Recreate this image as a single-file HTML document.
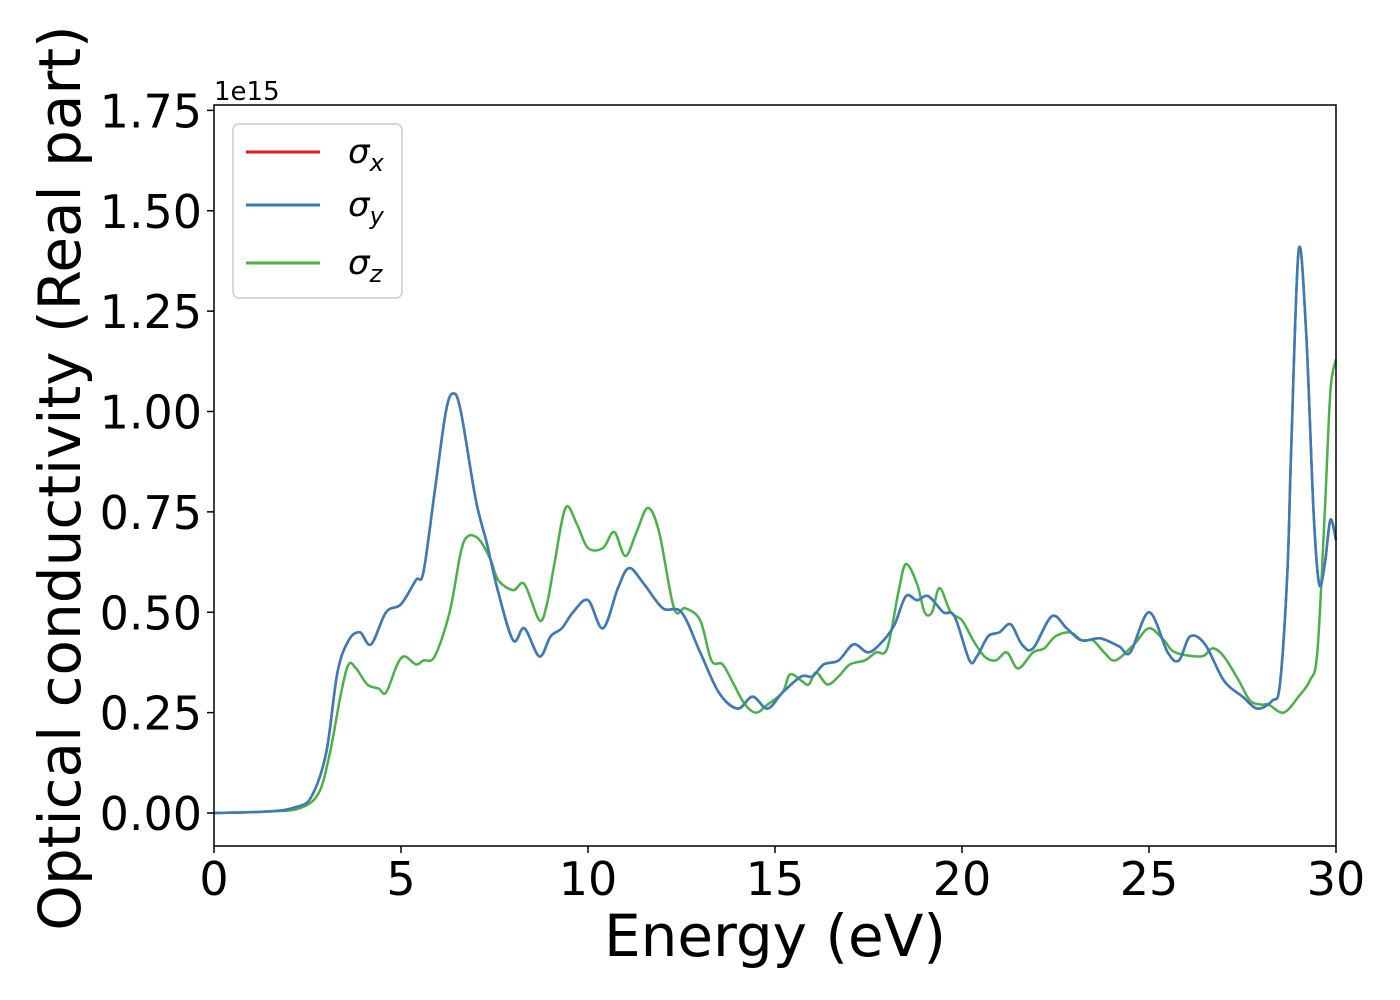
<!DOCTYPE html>
<html><head><meta charset="utf-8"><style>
html,body{margin:0;padding:0;background:#fff;}
svg{display:block;font-family:"DejaVu Sans","Liberation Sans",sans-serif;}
</style></head><body>
<svg id="chart" width="1400" height="1000" viewBox="0 0 1400 1000" xmlns="http://www.w3.org/2000/svg">
<rect width="1400" height="1000" fill="#fff"/>
<g id="series"></g>
<rect x="214" y="105" width="1122" height="741" fill="none" stroke="#000" stroke-width="1.5"/>
<g id="xticks"></g>
<g id="yticks"></g>
<text x="214" y="100" font-size="26">1e15</text>
<text x="775" y="956" font-size="58" text-anchor="middle">Energy (eV)</text>
<text transform="translate(80,478) rotate(-90)" font-size="58" text-anchor="middle">Optical conductivity (Real part)</text>
<g>
<rect x="233" y="124" width="169" height="174" rx="6" fill="#fff" stroke="#ccc" stroke-width="1.5"/>
<line x1="246" y1="152" x2="320" y2="152" stroke="#e41a1c" stroke-width="3"/>
<text x="348" y="163" font-size="34" font-style="italic">σ<tspan font-size="24" dy="8">x</tspan></text>
<line x1="246" y1="205" x2="320" y2="205" stroke="#377eb8" stroke-width="3"/>
<text x="348" y="216" font-size="34" font-style="italic">σ<tspan font-size="24" dy="8">y</tspan></text>
<line x1="246" y1="263" x2="320" y2="263" stroke="#4daf4a" stroke-width="3"/>
<text x="348" y="274" font-size="34" font-style="italic">σ<tspan font-size="24" dy="8">z</tspan></text>
</g>
</svg>
<script>
const energyXY=[0,1.5,2.2,2.6,3,3.3,3.6,3.9,4.2,4.6,5,5.4,5.6,5.9,6.2,6.4,6.6,7.0,7.3,7.6,8.0,8.3,8.7,9.0,9.3,9.6,10,10.4,10.8,11.1,11.5,12,12.5,13,13.5,14,14.4,14.8,15.2,15.7,16,16.3,16.7,17.1,17.5,17.9,18.2,18.5,18.8,19.1,19.5,19.8,20.2,20.4,20.7,21.0,21.3,21.6,21.9,22.4,22.8,23.2,23.7,24.2,24.5,25.0,25.5,25.8,26.1,26.5,27.0,27.5,27.9,28.3,28.5,28.7,28.8,29.0,29.2,29.4,29.55,29.7,29.85,30];
const sigmaX=[0,0.004,0.015,0.04,0.15,0.35,0.43,0.45,0.42,0.5,0.52,0.58,0.6,0.8,1.0,1.045,1.0,0.78,0.67,0.55,0.43,0.46,0.39,0.44,0.46,0.5,0.53,0.46,0.56,0.61,0.57,0.51,0.5,0.4,0.3,0.26,0.29,0.26,0.3,0.34,0.34,0.37,0.38,0.42,0.40,0.43,0.47,0.54,0.53,0.54,0.5,0.49,0.38,0.39,0.44,0.45,0.47,0.42,0.41,0.49,0.46,0.43,0.435,0.415,0.40,0.50,0.40,0.38,0.44,0.42,0.33,0.29,0.26,0.28,0.32,0.6,0.9,1.4,1.2,0.75,0.57,0.62,0.73,0.68];
const sigmaY=sigmaX.slice();
const energyZ=[0,1.5,2.3,2.8,3.1,3.4,3.6,3.8,4.1,4.4,4.6,4.9,5.1,5.4,5.6,5.9,6.3,6.6,6.8,7.1,7.4,7.6,8.0,8.3,8.7,8.9,9.1,9.4,9.7,10,10.4,10.7,11.0,11.3,11.6,11.9,12.3,12.6,13.0,13.3,13.6,13.9,14.2,14.5,14.8,15.2,15.4,15.7,15.9,16.1,16.4,16.7,17.0,17.4,17.7,18.0,18.3,18.5,18.8,19.0,19.2,19.4,19.7,20.0,20.3,20.6,20.9,21.2,21.5,21.9,22.2,22.5,22.9,23.2,23.5,23.8,24.1,24.6,25.0,25.4,25.7,26.4,26.7,27.0,27.4,27.7,28.0,28.2,28.6,29.0,29.3,29.5,29.7,29.85,30];
const sigmaZ=[0,0.004,0.012,0.05,0.15,0.3,0.37,0.36,0.32,0.31,0.30,0.37,0.39,0.37,0.38,0.39,0.5,0.65,0.69,0.68,0.63,0.58,0.555,0.57,0.48,0.52,0.62,0.76,0.72,0.66,0.66,0.70,0.64,0.70,0.76,0.70,0.51,0.51,0.48,0.38,0.37,0.32,0.27,0.25,0.27,0.3,0.345,0.33,0.32,0.35,0.32,0.34,0.37,0.38,0.40,0.41,0.55,0.62,0.57,0.50,0.50,0.56,0.50,0.48,0.43,0.39,0.38,0.40,0.36,0.40,0.41,0.44,0.45,0.43,0.43,0.40,0.38,0.42,0.46,0.43,0.40,0.39,0.41,0.39,0.33,0.28,0.27,0.27,0.25,0.29,0.33,0.40,0.75,1.05,1.13];
const xTicks=[0,5,10,15,20,25,30];
const yTicks=[0,0.25,0.5,0.75,1.0,1.25,1.5,1.75];
const yTickLabels=["0.00","0.25","0.50","0.75","1.00","1.25","1.50","1.75"];

const NS="http://www.w3.org/2000/svg";
const xs=e=>214+(e/30)*1122;
const ys=v=>813-v*401.5;
function pathFor(ex,vals){
  const p=ex.map((e,i)=>[xs(e),ys(vals[i])]);
  let d="M"+p[0][0]+","+p[0][1];
  for(let i=0;i<p.length-1;i++){
    const p0=p[i-1]||p[i],p1=p[i],p2=p[i+1],p3=p[i+2]||p2;
    const c1=[p1[0]+(p2[0]-p0[0])/6,p1[1]+(p2[1]-p0[1])/6];
    const c2=[p2[0]-(p3[0]-p1[0])/6,p2[1]-(p3[1]-p1[1])/6];
    d+=" C"+c1[0]+","+c1[1]+" "+c2[0]+","+c2[1]+" "+p2[0]+","+p2[1];
  }
  return d;
}
const sg=document.getElementById("series");
[[energyXY,sigmaX,"#e41a1c","series-sigma-x"],[energyZ,sigmaZ,"#4daf4a","series-sigma-z"],[energyXY,sigmaY,"#377eb8","series-sigma-y"]].forEach(s=>{
  const el=document.createElementNS(NS,"path");
  el.setAttribute("d",pathFor(s[0],s[1]));
  el.setAttribute("fill","none");
  el.setAttribute("stroke",s[2]);
  el.setAttribute("stroke-width","2.5");
  
  
  sg.appendChild(el);
});
const xg=document.getElementById("xticks");
xTicks.forEach(t=>{
  const l=document.createElementNS(NS,"line");
  l.setAttribute("x1",xs(t));l.setAttribute("x2",xs(t));l.setAttribute("y1",846);l.setAttribute("y2",853);l.setAttribute("stroke","#000");l.setAttribute("stroke-width","1.5");
  
  
  xg.appendChild(l);
  const tx=document.createElementNS(NS,"text");
  tx.setAttribute("x",xs(t));tx.setAttribute("y",895);tx.setAttribute("font-size","46");tx.setAttribute("text-anchor","middle");
  tx.textContent=String(t);
  
  
  xg.appendChild(tx);
});
const yg=document.getElementById("yticks");
yTicks.forEach((t,i)=>{
  const l=document.createElementNS(NS,"line");
  l.setAttribute("x1",207);l.setAttribute("x2",214);l.setAttribute("y1",ys(t));l.setAttribute("y2",ys(t));l.setAttribute("stroke","#000");l.setAttribute("stroke-width","1.5");
  
  
  yg.appendChild(l);
  const tx=document.createElementNS(NS,"text");
  tx.setAttribute("x",202);tx.setAttribute("y",ys(t)+17);tx.setAttribute("font-size","46");tx.setAttribute("text-anchor","end");
  tx.textContent=yTickLabels[i];
  
  
  yg.appendChild(tx);
});
</script>
</body></html>
